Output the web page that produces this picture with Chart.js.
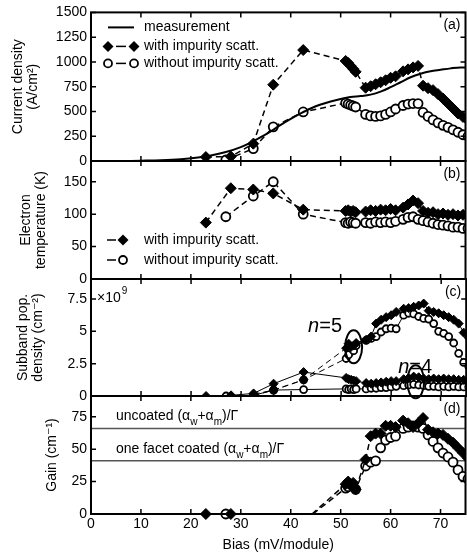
<!DOCTYPE html>
<html>
<head>
<meta charset="utf-8">
<script src="https://cdn.jsdelivr.net/npm/chart.js@4.4.1/dist/chart.umd.min.js"></script>
<style>
  html, body { margin: 0; padding: 0; background: #fff; overflow: hidden; }
  .panel { position: absolute; left: 0; top: 0; width: 472px; height: 556px; }
</style>
</head>
<body>
<div class="panel"><canvas id="chartA"></canvas></div>
<div class="panel"><canvas id="chartB"></canvas></div>
<div class="panel"><canvas id="chartC"></canvas></div>
<div class="panel"><canvas id="chartD"></canvas></div>
<script>
// measured current density
const measBias = [7, 10, 14, 18, 21, 24, 27, 30, 32, 34, 36, 38, 40, 42, 44, 46, 48, 50, 52, 54, 56, 58, 60, 62, 64, 66, 68, 70, 72, 74, 75];
const measCurrent = [0, 3, 8, 18, 32, 55, 90, 140, 185, 240, 300, 365, 425, 480, 530, 570, 600, 625, 645, 655, 670, 700, 745, 795, 845, 880, 905, 920, 935, 945, 945];

// simulated bias points (mV/module)
const biasWith = [23, 28, 32.5, 36.5, 42.5, 51, 51.5, 52, 52.5, 53, 55, 56, 57, 58, 59, 60, 61, 62.5, 63.5, 64.5, 65.5, 66.5, 67.5, 68.5, 69.5, 70.5, 71.5, 72.5, 73.5, 74.5, 75.5];
const biasWithout = [27, 32.5, 36.5, 42.5, 51, 51.5, 52, 52.5, 53, 55, 56, 57, 58, 59, 60, 61, 62.5, 63.5, 64.5, 65.5, 66.5, 67.5, 68.5, 69.5, 70.5, 71.5, 72.5, 73.5, 74.5, 75.5];

// (a) current density (A/cm2)
const currentWith = [40, 45, 175, 770, 1120, 1010, 990, 960, 930, 900, 740, 755, 775, 795, 815, 840, 855, 905, 925, 945, 960, 760, 735, 715, 675, 630, 580, 530, 480, 445, 410];
const currentWithout = [10, 125, 345, 495, 585, 575, 565, 555, 545, 470, 455, 450, 455, 470, 495, 525, 560, 575, 580, 580, 490, 450, 415, 385, 360, 340, 315, 290, 265, 250];

// (b) electron temperature (K)
const tempWith = [87, 140, 138, 132, 107, 105, 106, 104, 105, 103, 104, 106, 105, 107, 106, 108, 106, 110, 115, 121, 117, 105, 102, 103, 100, 101, 99, 100, 98, 99, 97];
const tempWithout = [96, 128, 150, 100, 87, 86, 88, 87, 86, 87, 86, 88, 87, 88, 87, 89, 92, 95, 96, 92, 90, 88, 86, 84, 83, 82, 80, 80, 78, 78];

// (c) subband populations (1e9 cm-2)
const n4With = [0, 0.05, 0.2, 0.95, 1.85, 1.4, 1.3, 1.25, 1.2, 1.15, 1.0, 0.95, 1.0, 1.05, 1.1, 1.15, 1.15, 1.3, 1.4, 1.5, 1.45, 1.35, 1.3, 1.35, 1.3, 1.35, 1.3, 1.3, 1.25, 1.25, 1.2];
const n5With = [null, null, 0.15, 0.45, 1.25, 3.7, 4.05, 3.8, 3.9, 4.1, 4.35, 4.6, 5.6, 5.9, 6.1, 6.25, 6.5, 6.75, 6.8, 6.9, 7.0, 7.15, 6.6, 6.5, 6.4, 6.25, 6.1, 5.9, 5.6, 4.9, 4.5];
const n4Without = [0, 0.05, 0.46, 0.5, 0.55, 0.5, 0.55, 0.5, 0.55, 0.55, 0.6, 0.6, 0.65, 0.65, 0.7, 0.75, 0.8, 0.85, 0.9, 0.85, 0.8, 0.75, 0.75, 0.7, 0.75, 0.7, 0.75, 0.7, 0.7, 0.7];
const n5Without = [null, 0.02, 0.46, 1.25, 2.9, 3.2, 3.7, 3.5, 3.9, 4.3, 4.45, 4.6, 4.95, 5.2, 5.25, 5.2, 6.25, 6.4, 6.35, 6.15, 6.0, 5.95, 5.6, 5.0, 4.85, 4.6, 4.1, 3.3, 2.6, 2.3];

// (d) gain (cm-1)
const gainWith = [0, 0, null, null, -6, 23, 25, 22, 24, 19, 42, 60, 62, 62, 68, 68, 67, 72, 70, 67, 70, 74, 65, 63, 62, 61, 58, 55, 51, 47, 43];
const gainWithout = [0, null, null, -6, 20, 21, 23, 22, 19, 37, 40, 41, 51, 57, 59, 60, 66, 67, 68, 67, 66, 61, 56, 51, 47, 44, 40, 34, 29, 27];
const uncoatedLoss = 66;
const coatedLoss = 41;

// axis ranges and tick labels
const biasRange = [0, 75];
const biasTicks = [0, 10, 20, 30, 40, 50, 60, 70];
const currentTicks = [0, 250, 500, 750, 1000, 1250, 1500];
const tempTicks = [0, 50, 100, 150];
const popTicks = [0, 2.5, 5, 7.5];
const gainTicks = [0, 25, 50, 75];

const FONT = "'Liberation Sans', 'DejaVu Sans', Arial, sans-serif";
Chart.defaults.font.family = FONT;
Chart.defaults.font.size = 14;
Chart.defaults.color = '#000';

const pts = (xs, ys) => xs.map((x, i) => ({ x: x, y: ys[i] }));

const withStyle = (r) => ({
    borderColor: '#000', borderWidth: 1.5, borderDash: [6, 4],
    pointStyle: 'rectRot', pointRadius: r,
    pointBackgroundColor: '#000', pointBorderColor: '#000', pointBorderWidth: 1,
});
const withoutStyle = (r) => ({
    borderColor: '#000', borderWidth: 1.5, borderDash: [6, 4],
    pointStyle: 'circle', pointRadius: r,
    pointBackgroundColor: '#fff', pointBorderColor: '#000', pointBorderWidth: 1.8,
});

function drawMarker(ctx, kind, x, y, r) {
    ctx.beginPath();
    if (kind === 'diamond') {
        ctx.moveTo(x, y - r);
        ctx.lineTo(x + r, y);
        ctx.lineTo(x, y + r);
        ctx.lineTo(x - r, y);
        ctx.closePath();
        ctx.fillStyle = '#000';
        ctx.fill();
    } else {
        ctx.arc(x, y, r, 0, Math.PI * 2);
        ctx.fillStyle = '#fff';
        ctx.fill();
        ctx.lineWidth = 1.8;
        ctx.strokeStyle = '#000';
        ctx.stroke();
    }
}

// box, inward ticks and panel letter
const framePlugin = {
    id: 'frame',
    afterDraw(chart, args, options) {
        const { ctx, chartArea: { left, top, right, bottom }, scales: { x, y } } = chart;
        ctx.save();
        ctx.strokeStyle = '#000';
        ctx.lineWidth = 1.5;
        ctx.beginPath();
        biasTicks.forEach(v => {
            const px = x.getPixelForValue(v);
            ctx.moveTo(px, bottom); ctx.lineTo(px, bottom - 5);
            ctx.moveTo(px, top); ctx.lineTo(px, top + 5);
        });
        y.ticks.forEach(t => {
            const py = y.getPixelForValue(t.value);
            ctx.moveTo(left, py); ctx.lineTo(left + 5, py);
            ctx.moveTo(right, py); ctx.lineTo(right - 5, py);
        });
        ctx.stroke();
        ctx.lineWidth = 2;
        ctx.strokeRect(left, top, right - left, bottom - top);
        if (options.label) {
            ctx.font = '14px ' + FONT;
            ctx.fillStyle = '#000';
            ctx.textAlign = 'right';
            ctx.textBaseline = 'middle';
            ctx.fillText(options.label, right - 5, top + 13);
        }
        ctx.restore();
    }
};

// hand drawn legend, marker - dash - marker like the original
const keyPlugin = {
    id: 'key',
    afterDraw(chart, args, options) {
        if (!options.rows) return;
        const { ctx, chartArea: { left, top } } = chart;
        ctx.save();
        options.rows.forEach(row => {
            const y = top + row.dy;
            const x0 = left + options.from;
            const x1 = left + options.to;
            ctx.strokeStyle = '#000';
            ctx.beginPath();
            if (row.kind === 'line') {
                ctx.lineWidth = 2;
                ctx.moveTo(x0, y); ctx.lineTo(x1, y);
                ctx.stroke();
            } else if (options.pair) {
                ctx.lineWidth = 1.5;
                ctx.moveTo(x0 + 8, y); ctx.lineTo(x1 - 8, y);
                ctx.stroke();
                drawMarker(ctx, row.kind, x0, y, row.kind === 'diamond' ? 5.5 : 4);
                drawMarker(ctx, row.kind, x1, y, row.kind === 'diamond' ? 5.5 : 4);
            } else {
                ctx.lineWidth = 1.5;
                ctx.moveTo(x0, y); ctx.lineTo(x1 - 7, y);
                ctx.stroke();
                drawMarker(ctx, row.kind, x1, y, row.kind === 'diamond' ? 5.5 : 4);
            }
            ctx.font = '14px ' + FONT;
            ctx.fillStyle = '#000';
            ctx.textAlign = 'left';
            ctx.textBaseline = 'middle';
            ctx.fillText(row.text, left + options.textX, y);
        });
        ctx.restore();
    }
};

// multiplier, n=5 / n=4 labels and circles in (c)
const subbandPlugin = {
    id: 'subband',
    afterDatasetsDraw(chart, args, options) {
        if (!options.marks) return;
        const { ctx, chartArea: { left, top }, scales: { x, y } } = chart;
        ctx.save();
        ctx.fillStyle = '#000';
        ctx.strokeStyle = '#000';
        ctx.textAlign = 'left';
        ctx.textBaseline = 'middle';
        ctx.font = '14px ' + FONT;
        ctx.fillText('\u00d710', left + 6, top + 19);
        const w = ctx.measureText('\u00d710').width;
        ctx.font = '10px ' + FONT;
        ctx.fillText('9', left + 7 + w, top + 12);
        options.marks.forEach(m => {
            const tx = x.getPixelForValue(m.tx);
            const ty = y.getPixelForValue(m.ty);
            ctx.textBaseline = 'alphabetic';
            ctx.font = 'italic 20px ' + FONT;
            ctx.fillText('n', tx, ty);
            const nw = ctx.measureText('n').width;
            ctx.font = '20px ' + FONT;
            ctx.fillText('=' + m.n, tx + nw, ty);
            ctx.lineWidth = 2;
            ctx.beginPath();
            ctx.ellipse(x.getPixelForValue(m.cx), y.getPixelForValue(m.cy), 8.5, 16.5, 0, 0, Math.PI * 2);
            ctx.stroke();
        });
        ctx.restore();
    }
};

// loss line labels in (d)
const lossPlugin = {
    id: 'loss',
    afterDatasetsDraw(chart, args, options) {
        if (!options.lines) return;
        const { ctx, scales: { x, y } } = chart;
        ctx.save();
        ctx.fillStyle = '#000';
        ctx.textAlign = 'left';
        ctx.textBaseline = 'middle';
        options.lines.forEach(l => {
            let px = x.getPixelForValue(options.textAt);
            const py = y.getPixelForValue(l.value) - 12;
            const parts = [[l.text + ' (\u03b1', false], ['w', true], ['+\u03b1', false], ['m', true], [')/\u0393', false]];
            parts.forEach(([s, sub]) => {
                ctx.font = (sub ? '10px ' : '14px ') + FONT;
                ctx.fillText(s, px, sub ? py + 6 : py);
                px += ctx.measureText(s).width;
            });
        });
        ctx.restore();
    }
};

function makePanel(id, cfg) {
    return new Chart(document.getElementById(id), {
        type: 'line',
        data: { datasets: cfg.datasets },
        options: {
            responsive: true,
            maintainAspectRatio: false,
            animation: false,
            events: [],
            layout: { padding: { top: cfg.top, bottom: cfg.bottom, left: 0, right: 4 } },
            scales: {
                x: {
                    type: 'linear',
                    min: biasRange[0],
                    max: biasRange[1],
                    display: !!cfg.xTitle,
                    afterBuildTicks: s => { s.ticks = biasTicks.map(v => ({ value: v })); },
                    afterFit: s => { if (cfg.xTitle) s.height = 42; },
                    grid: { display: false, drawTicks: false },
                    border: { display: false },
                    ticks: { padding: 2, maxRotation: 0, autoSkip: false, callback: v => String(v) },
                    title: { display: !!cfg.xTitle, text: cfg.xTitle, padding: { top: 0, bottom: 2 } },
                },
                y: {
                    min: 0,
                    max: cfg.yMax,
                    afterBuildTicks: s => { s.ticks = cfg.yTicks.map(v => ({ value: v })); },
                    afterFit: s => { s.width = 91; },
                    grid: { display: false, drawTicks: false },
                    border: { display: false },
                    ticks: { padding: 4, callback: v => String(v) },
                    title: {
                        display: true,
                        text: cfg.yTitle,
                        font: { size: 14, lineHeight: 1.1 },
                        padding: { top: cfg.titlePad, bottom: 0 },
                    },
                },
            },
            plugins: {
                legend: { display: false },
                tooltip: { enabled: false },
                frame: { label: cfg.label },
                key: cfg.key || {},
                subband: cfg.subband || {},
                loss: cfg.loss || {},
            },
        },
        plugins: [framePlugin, keyPlugin, subbandPlugin, lossPlugin],
    });
}

const dashedUpTo51 = { borderDash: c => (c.p1.parsed.x <= 51 ? [6, 4] : undefined) };

// the part of a segment that dips under the gain axis is left as a gap
const hiddenBelowAxis = {
    borderDash: c => {
        const bottom = c.chart.chartArea.bottom;
        const { p0, p1 } = c;
        if (p0.y <= bottom) return undefined;
        const len = Math.hypot(p1.x - p0.x, p1.y - p0.y);
        if (p1.y >= bottom) return [0, len + 2];
        const gap = len * (p0.y - bottom) / (p0.y - p1.y);
        return [0, gap, 6, 4, 6, 4, 6, 4, 6, 4, 6, 4, 6, 4, 6, 4];
    },
};

makePanel('chartA', {
    top: 12, bottom: 556 - 161, yMax: 1500, yTicks: currentTicks,
    yTitle: ['Current density', '(A/cm\u00b2)'], titlePad: 10, label: '(a)',
    key: {
        pair: true, from: 17, to: 43, textX: 53,
        rows: [
            { text: 'measurement', kind: 'line', dy: 15 },
            { text: 'with impurity scatt.', kind: 'diamond', dy: 34 },
            { text: 'without impurity scatt.', kind: 'circle', dy: 51 },
        ],
    },
    datasets: [
        { label: 'measurement', data: pts(measBias, measCurrent), borderColor: '#000', borderWidth: 2, pointRadius: 0, cubicInterpolationMode: 'monotone' },
        { label: 'with impurity scatt.', data: pts(biasWith, currentWith), ...withStyle(5.5) },
        { label: 'without impurity scatt.', data: pts(biasWithout, currentWithout), ...withoutStyle(4.5) },
    ],
});

makePanel('chartB', {
    top: 161, bottom: 556 - 279, yMax: 182, yTicks: tempTicks,
    yTitle: ['Electron', 'temperature (K)'], titlePad: 18, label: '(b)',
    key: {
        pair: false, from: 16, to: 32, textX: 53,
        rows: [
            { text: 'with impurity scatt.', kind: 'diamond', dy: 79 },
            { text: 'without impurity scatt.', kind: 'circle', dy: 99 },
        ],
    },
    datasets: [
        { label: 'with impurity scatt.', data: pts(biasWith, tempWith), ...withStyle(5.5) },
        { label: 'without impurity scatt.', data: pts(biasWithout, tempWithout), ...withoutStyle(4.5) },
    ],
});

makePanel('chartC', {
    top: 279, bottom: 556 - 396, yMax: 9.05, yTicks: popTicks,
    yTitle: ['Subband pop.', 'density (cm\u207b\u00b2)'], titlePad: 15, label: '(c)',
    subband: {
        marks: [
            { n: 5, tx: 43.4, ty: 4.95, cx: 52.5, cy: 3.8 },
            { n: 4, tx: 61.4, ty: 1.78, cx: 64.9, cy: 1.1 },
        ],
    },
    datasets: [
        { label: 'n=5 with', data: pts(biasWith, n5With), ...withStyle(4.5), borderWidth: 1, borderDash: [], segment: dashedUpTo51, spanGaps: true },
        { label: 'n=4 with', data: pts(biasWith, n4With), ...withStyle(4.5), borderWidth: 1, borderDash: [] },
        { label: 'n=5 without', data: pts(biasWithout, n5Without), ...withoutStyle(3.5), borderWidth: 1, borderDash: [], segment: dashedUpTo51, spanGaps: true },
        { label: 'n=4 without', data: pts(biasWithout, n4Without), ...withoutStyle(3.5), borderWidth: 1, borderDash: [] },
    ],
});

const hideNegative = c => (c.raw && c.raw.y < 0 ? 0 : undefined);

makePanel('chartD', {
    top: 396, bottom: 0, yMax: 91, yTicks: gainTicks,
    yTitle: 'Gain (cm\u207b\u00b9)', titlePad: 44, label: '(d)',
    xTitle: 'Bias (mV/module)',
    loss: {
        textAt: 5,
        lines: [
            { text: 'uncoated', value: uncoatedLoss },
            { text: 'one facet coated', value: coatedLoss },
        ],
    },
    datasets: [
        { label: 'with impurity scatt.', data: pts(biasWith, gainWith), ...withStyle(5.5), pointRadius: c => hideNegative(c) ?? 5.5, segment: hiddenBelowAxis, clip: { left: 0, top: 0, right: 0, bottom: 7 } },
        { label: 'without impurity scatt.', data: pts(biasWithout, gainWithout), ...withoutStyle(4.5), pointRadius: c => hideNegative(c) ?? 4.5, segment: hiddenBelowAxis, clip: { left: 0, top: 0, right: 0, bottom: 7 } },
        { label: 'uncoated', data: pts(biasRange, [uncoatedLoss, uncoatedLoss]), borderColor: '#555', borderWidth: 1.5, pointRadius: 0 },
        { label: 'one facet coated', data: pts(biasRange, [coatedLoss, coatedLoss]), borderColor: '#555', borderWidth: 1.5, pointRadius: 0 },
    ],
});
</script>
</body>
</html>
